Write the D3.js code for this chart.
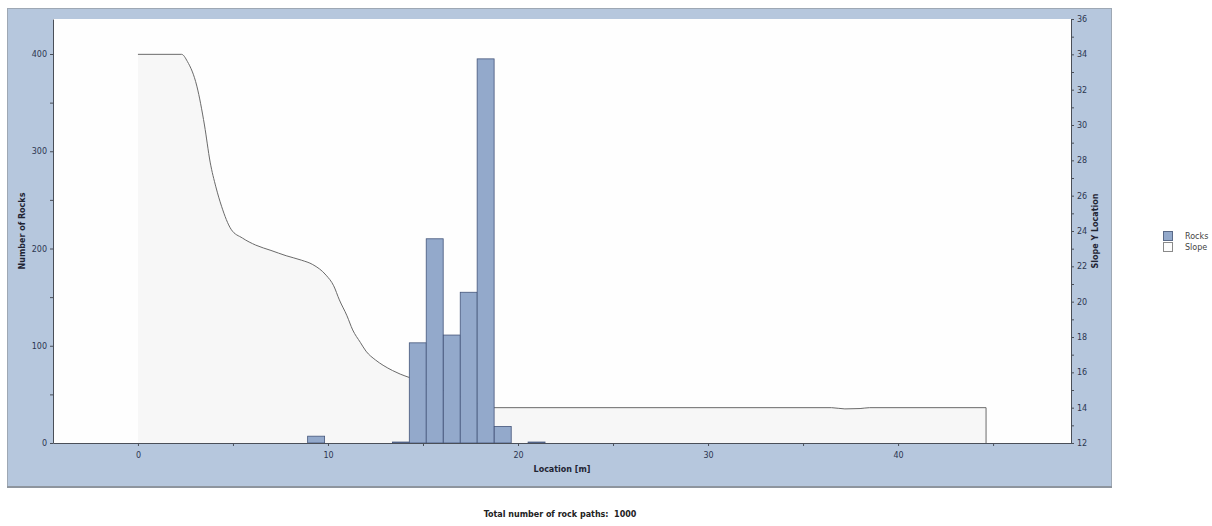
<!DOCTYPE html>
<html><head><meta charset="utf-8">
<script src="https://cdn.jsdelivr.net/npm/d3@7"></script>
<style>body{margin:0;background:#fff;}svg{display:block;font-family:"DejaVu Sans",Verdana,sans-serif;}</style>
</head><body>
<svg id="c" width="1212" height="526"></svg>
<script>
// ---- data ----
const rockBinStart = [8.93, 13.39, 14.28, 15.17, 16.07, 16.96, 17.85, 18.75, 20.53];
const rockCounts   = [7, 1, 103, 210, 111, 155, 395, 17, 1];
const binWidth = 0.8926;
const slopeX = [0, 2.3, 2.6, 3.1, 3.5, 3.8, 4.1, 4.4, 4.9, 5.5, 6.2, 7.0, 7.8, 8.6, 9.2, 9.9, 10.3, 10.6, 11.0, 11.3, 11.7, 12.0, 12.5, 12.9, 13.4, 13.8, 14.3, 15.0, 16.0, 17.0, 18.0, 18.7, 36.5, 37.2, 38.0, 38.5, 44.63];
const slopeY = [34, 34, 33.6, 32.2, 30.0, 27.9, 26.5, 25.4, 24.1, 23.6, 23.2, 22.9, 22.6, 22.35, 22.1, 21.5, 20.9, 20.1, 19.2, 18.4, 17.7, 17.2, 16.7, 16.4, 16.1, 15.9, 15.7, 15.4, 15.0, 14.6, 14.2, 14.0, 14.0, 13.93, 13.95, 14.0, 14.0];
const xTicksMajor = [0, 10, 20, 30, 40];
const leftTicksMajor = [0, 100, 200, 300, 400];
const rightTicksMajor = [12, 14, 16, 18, 20, 22, 24, 26, 28, 30, 32, 34, 36];
const seriesNames = ["Rocks", "Slope"];
const footer = "Total number of rock paths:  1000";

// ---- layout ----
const svg = d3.select("#c");
const L = 53, R = 1071, T = 19, B = 443;
const x = d3.scaleLinear().domain([-4.47, 49.1]).range([L, R]);
const yL = d3.scaleLinear().domain([0, 436]).range([B, T]);
const yR = d3.scaleLinear().domain([12, 36]).range([B, T]);
const barFill = "#93a9cb", barStroke = "#44557a";
const tickColor = "#2c3650";

// panel
svg.append("rect").attr("x", 7.5).attr("y", 8.5).attr("width", 1104).attr("height", 478)
  .attr("fill", "#b6c7dd").attr("stroke", "#9ea8b4");
svg.append("line").attr("x1", 7).attr("x2", 1112).attr("y1", 487).attr("y2", 487).attr("stroke", "#8e959e").attr("stroke-width", 2);
// plot bg
svg.append("rect").attr("x", L).attr("y", T).attr("width", R - L).attr("height", B - T).attr("fill", "#fefefe");

// slope area
const pts = slopeX.map((d, i) => [d, slopeY[i]]);
const area = d3.area().x(d => x(d[0])).y0(yR(12)).y1(d => yR(d[1])).curve(d3.curveMonotoneX);
svg.append("path").datum(pts).attr("d", area).attr("fill", "#f7f7f7");
const line = d3.line().x(d => x(d[0])).y(d => yR(d[1])).curve(d3.curveMonotoneX);
svg.append("path").datum(pts).attr("d", line).attr("fill", "none").attr("stroke", "#6a6a6a").attr("stroke-width", 1);
const last = pts[pts.length - 1];
svg.append("line").attr("x1", x(last[0])).attr("x2", x(last[0])).attr("y1", yR(last[1])).attr("y2", yR(12))
  .attr("stroke", "#6a6a6a").attr("stroke-width", 1);

// bars
svg.append("g").selectAll("rect").data(rockBinStart).join("rect")
  .attr("x", d => x(d)).attr("width", x(binWidth) - x(0))
  .attr("y", (d, i) => yL(rockCounts[i])).attr("height", (d, i) => yL(0) - yL(rockCounts[i]))
  .attr("fill", barFill).attr("stroke", barStroke).attr("stroke-width", 0.8);

// axes
function styleAxis(g) {
  g.select(".domain").attr("stroke", "#4a4f58");
  g.selectAll(".tick line").attr("stroke", "#4a4f58");
  g.selectAll("text").attr("fill", tickColor).attr("font-size", 8).attr("font-family", "DejaVu Sans, sans-serif");
}
const xAx = svg.append("g").attr("transform", `translate(0,${B})`)
  .call(d3.axisBottom(x).tickValues(d3.range(0, 46, 5)).tickSize(3).tickSizeOuter(0)
    .tickFormat(d => xTicksMajor.includes(d) ? d : ""));
styleAxis(xAx); xAx.selectAll("text").attr("dy", "1.1em");
const lAx = svg.append("g").attr("transform", `translate(${L},0)`)
  .call(d3.axisLeft(yL).tickValues(d3.range(0, 401, 50)).tickSize(3).tickSizeOuter(0)
    .tickFormat(d => leftTicksMajor.includes(d) ? d : ""));
styleAxis(lAx);
const rAx = svg.append("g").attr("transform", `translate(${R},0)`)
  .call(d3.axisRight(yR).tickValues(d3.range(12, 37, 1)).tickSize(3).tickSizeOuter(0)
    .tickFormat(d => rightTicksMajor.includes(d) ? d : ""));
styleAxis(rAx);

// axis titles
svg.append("text").attr("transform", `translate(25,${(T + B) / 2}) rotate(-90)`).attr("text-anchor", "middle")
  .attr("font-size", 8).attr("font-weight", "bold").attr("fill", "#1f2433").text("Number of Rocks");
svg.append("text").attr("transform", `translate(1098,${(T + B) / 2}) rotate(-90)`).attr("text-anchor", "middle")
  .attr("font-size", 8).attr("font-weight", "bold").attr("fill", "#1f2433").text("Slope Y Location");
svg.append("text").attr("x", (L + R) / 2).attr("y", 472).attr("text-anchor", "middle")
  .attr("font-size", 8).attr("font-weight", "bold").attr("fill", "#1f2433").text("Location [m]");

// footer
svg.append("text").attr("x", 560).attr("y", 517).attr("text-anchor", "middle")
  .attr("font-size", 8).attr("font-weight", "bold").attr("fill", "#222").attr("xml:space", "preserve").text(footer);

// legend
const lg = svg.append("g").attr("transform", "translate(1163,231)");
lg.selectAll("rect").data(seriesNames).join("rect")
  .attr("x", 0.5).attr("y", (d, i) => 0.5 + i * 11).attr("width", 9).attr("height", 9)
  .attr("fill", (d, i) => i === 0 ? barFill : "#fdfdfd").attr("stroke", (d, i) => i === 0 ? "#5a6a88" : "#8a8a8a");
lg.selectAll("text").data(seriesNames).join("text")
  .attr("x", 22).attr("y", (d, i) => 8 + i * 11).attr("font-size", 8).attr("fill", "#444").text(d => d);
</script>
</body></html>
